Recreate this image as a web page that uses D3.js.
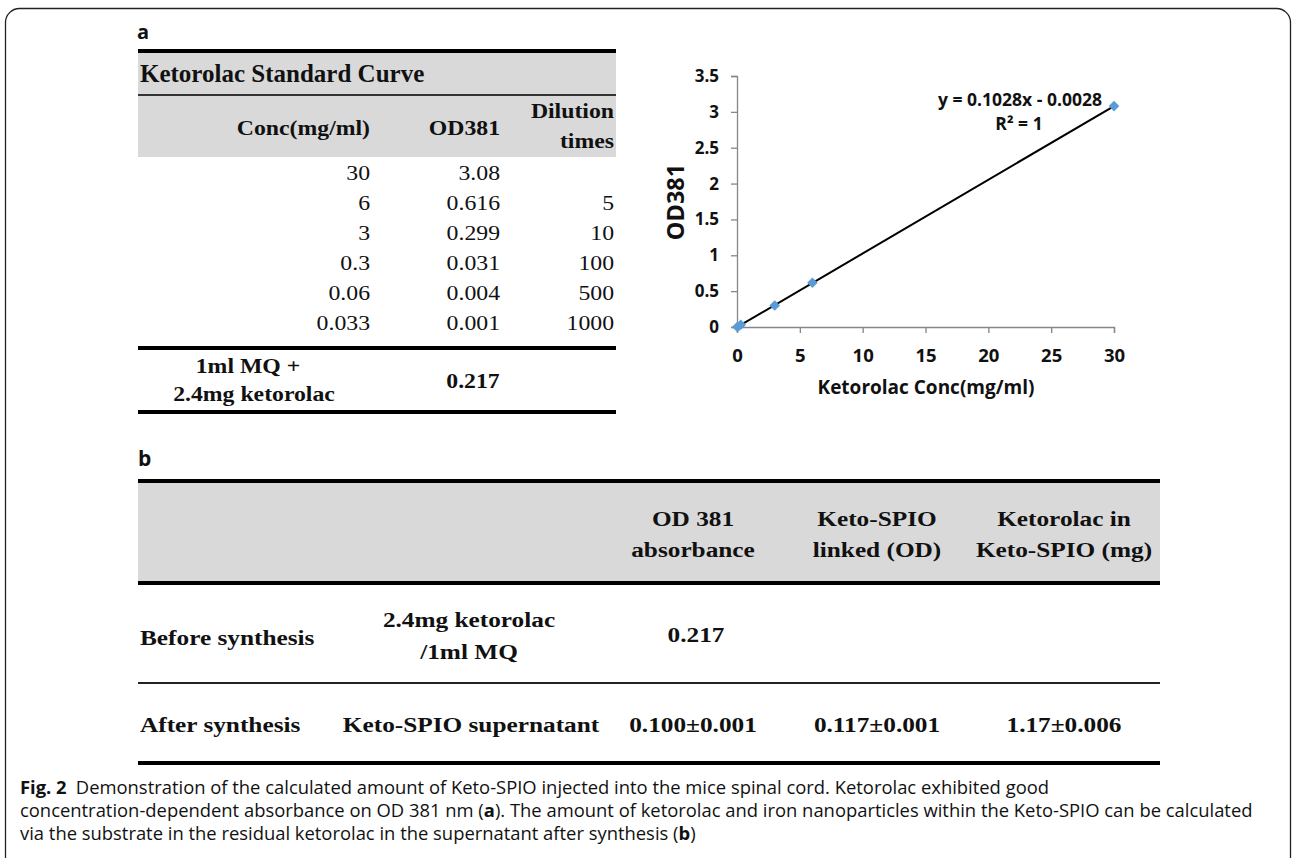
<!DOCTYPE html>
<html>
<head>
<meta charset="utf-8">
<script src="https://cdn.jsdelivr.net/npm/d3@7"></script>
<style>
  body { margin: 0; background: #fff; }
  svg { display: block; }
  .serif { font-family: "Liberation Serif", "Times New Roman", serif; fill: #111; white-space: pre; }
  .sans { font-family: "Open Sans", "Noto Sans", sans-serif; fill: #111; }
</style>
</head>
<body>
<div id="fig"></div>
<script>
// standard curve table (panel a)
const concLabels = ['30', '6', '3', '0.3', '0.06', '0.033'];
const concValues = [30, 6, 3, 0.3, 0.06, 0.033];
const odValues = [3.08, 0.616, 0.299, 0.031, 0.004, 0.001];
const odLabels = ['3.08', '0.616', '0.299', '0.031', '0.004', '0.001'];
const dilutionLabels = ['', '5', '10', '100', '500', '1000'];

// fit line from the chart
const slope = 0.1028;
const intercept = -0.0028;
const yTicks = [0, 0.5, 1, 1.5, 2, 2.5, 3, 3.5];
const xTicks = [0, 5, 10, 15, 20, 25, 30];

// synthesis table (panel b)
const bHeaders = [['OD 381', 'absorbance'], ['Keto-SPIO', 'linked (OD)'], ['Ketorolac in', 'Keto-SPIO (mg)']];
const bRowNames = ['Before synthesis', 'After synthesis'];
const bSamples = [['2.4mg ketorolac', '/1ml  MQ'], ['Keto-SPIO supernatant']];
const bValues = [['0.217', '', ''], ['0.100\u00b10.001', '0.117\u00b10.001', '1.17\u00b10.006']];

const W = 1292, H = 858;
const svg = d3.select('#fig').append('svg').attr('width', W).attr('height', H);

// outer frame, bottom runs off the page
svg.append('rect')
  .attr('x', 5.5).attr('y', 8.5).attr('width', 1285).attr('height', 900)
  .attr('rx', 14).attr('fill', 'none').attr('stroke', '#222').attr('stroke-width', 1.3);

function hline(g, x1, x2, y, w, c) {
  g.append('line').attr('x1', x1).attr('x2', x2).attr('y1', y).attr('y2', y)
    .attr('stroke', c || '#000').attr('stroke-width', w);
}
// the table text in the figure is a bit wider than plain Times, so stretch it sideways
function stext(g, x, y, txt, anchor, sx) {
  return g.append('text')
    .attr('transform', 'translate(' + x + ',' + y + ') scale(' + sx + ',1)')
    .attr('text-anchor', anchor).text(txt);
}

// ---------- panel a table ----------
const ta = svg.append('g');
const ax0 = 138, ax1 = 616;
const sxA = 1.08;
ta.append('text').attr('class', 'sans').attr('x', 137).attr('y', 39)
  .style('font-size', '20px').style('font-weight', 'bold').text('a');

ta.append('rect').attr('x', ax0).attr('y', 52).attr('width', ax1 - ax0).attr('height', 105).attr('fill', '#d9d9d9');
hline(ta, ax0, ax1, 51, 4);
hline(ta, ax0, ax1, 95, 2, '#333');
const title = ta.append('g').attr('class', 'serif').style('font-size', '25px').style('font-weight', 'bold');
stext(title, 140, 82, 'Ketorolac Standard Curve', 'start', 1.0);

const colRight = [370, 500, 614];
const hdr = ta.append('g').attr('class', 'serif').style('font-size', '22px').style('font-weight', 'bold');
stext(hdr, colRight[0], 135, 'Conc(mg/ml)', 'end', sxA);
stext(hdr, colRight[1], 135, 'OD381', 'end', sxA);
stext(hdr, colRight[2], 118, 'Dilution', 'end', sxA);
stext(hdr, colRight[2], 148, 'times', 'end', sxA);

const rowY = d3.scaleBand().domain(d3.range(concLabels.length)).range([157, 337]);
const body = ta.append('g').attr('class', 'serif').style('font-size', '22px');
[concLabels, odLabels, dilutionLabels].forEach((col, ci) => {
  col.forEach((t, i) => {
    stext(body, colRight[ci], rowY(i) + rowY.bandwidth() / 2 + 8, t, 'end', sxA);
  });
});

hline(ta, ax0, ax1, 348, 4);
const sample = ta.append('g').attr('class', 'serif').style('font-size', '22px').style('font-weight', 'bold');
stext(sample, 248, 373, '1ml MQ +', 'middle', sxA);
stext(sample, 254, 401, '2.4mg ketorolac', 'middle', sxA);
stext(sample, 473, 388, '0.217', 'middle', sxA);
hline(ta, ax0, ax1, 412, 4);

// ---------- panel a chart ----------
const x = d3.scaleLinear().domain([0, 30]).range([737, 1114]);
const y = d3.scaleLinear().domain([0, 3.5]).range([327, 76]);
const ch = svg.append('g');

const xAxis = ch.append('g').attr('transform', 'translate(0,' + y(0) + ')')
  .call(d3.axisBottom(x).tickValues(xTicks).tickSize(6).tickPadding(16).tickFormat(d => d));
const yAxis = ch.append('g').attr('transform', 'translate(' + x(0) + ',0)')
  .call(d3.axisLeft(y).tickValues(yTicks).tickSize(6).tickPadding(12).tickFormat(d => d));
[xAxis, yAxis].forEach(a => {
  a.select('.domain').attr('stroke', '#868686').attr('stroke-width', 1.3);
  a.selectAll('.tick line').attr('stroke', '#868686').attr('stroke-width', 1.3);
  a.selectAll('.tick text').attr('class', 'sans').attr('fill', '#111')
    .style('font-weight', 'bold');
});
xAxis.selectAll('.tick text').style('font-size', '18.5px');
yAxis.selectAll('.tick text').style('font-size', '17px');

ch.append('line')
  .attr('x1', x(0)).attr('y1', y(slope * 0 + intercept))
  .attr('x2', x(30)).attr('y2', y(slope * 30 + intercept))
  .attr('stroke', '#000').attr('stroke-width', 2);

ch.selectAll('path.pt').data(concValues).enter().append('path').attr('class', 'pt')
  .attr('d', d3.symbol(d3.symbolSquare, 56))
  .attr('transform', (d, i) => 'translate(' + x(d) + ',' + y(odValues[i]) + ') rotate(45)')
  .attr('fill', '#5b9bd5');

ch.append('text').attr('class', 'sans').attr('x', 926).attr('y', 394).attr('text-anchor', 'middle')
  .style('font-size', '19px').style('font-weight', 'bold').text('Ketorolac Conc(mg/ml)');
ch.append('text').attr('class', 'sans').attr('transform', 'translate(684,202) rotate(-90)')
  .attr('text-anchor', 'middle').style('font-size', '23.5px').style('font-weight', 'bold').text('OD381');

const eq = ch.append('g').attr('class', 'sans').attr('text-anchor', 'middle')
  .style('font-size', '17.5px').style('font-weight', 'bold');
eq.append('text').attr('x', 1020).attr('y', 106).text('y = 0.1028x - 0.0028');
eq.append('text').attr('x', 1019).attr('y', 130).text('R\u00b2 = 1');

// ---------- panel b table ----------
const tb = svg.append('g');
const bx0 = 138, bx1 = 1160;
const sxB = 1.15;
tb.append('text').attr('class', 'sans').attr('x', 138).attr('y', 466)
  .style('font-size', '21px').style('font-weight', 'bold').text('b');
tb.append('rect').attr('x', bx0).attr('y', 483).attr('width', bx1 - bx0).attr('height', 99).attr('fill', '#d9d9d9');
hline(tb, bx0, bx1, 481, 4);
hline(tb, bx0, bx1, 583, 4);
hline(tb, bx0, bx1, 683, 2, '#222');
hline(tb, bx0, bx1, 763, 4);

const valX = [693, 877, 1064];
const bh = tb.append('g').attr('class', 'serif').style('font-size', '22px').style('font-weight', 'bold');
bHeaders.forEach((h, i) => {
  stext(bh, valX[i], 526, h[0], 'middle', sxB);
  stext(bh, valX[i], 557, h[1], 'middle', sxB);
});

const rowBase = [645, 732];
const bb = tb.append('g').attr('class', 'serif').style('font-size', '22px').style('font-weight', 'bold');
bRowNames.forEach((n, r) => {
  stext(bb, 140, rowBase[r], n, 'start', sxB);
  const s = bSamples[r];
  s.forEach((t, k) => {
    stext(bb, s.length > 1 ? 469 : 471, s.length > 1 ? 627 + k * 32 : rowBase[r], t, 'middle', sxB);
  });
  bValues[r].forEach((v, c) => {
    if (v) stext(bb, valX[c] + (r === 0 ? 3 : 0), r === 0 ? 642 : rowBase[r], v, 'middle', sxB);
  });
});

// ---------- caption ----------
const cap = svg.append('g').attr('class', 'sans').style('font-size', '18.4px');
const l1 = cap.append('text').attr('x', 20).attr('y', 794);
l1.append('tspan').style('font-weight', 'bold').text('Fig. 2');
l1.append('tspan').text('\u2002Demonstration of the calculated amount of Keto-SPIO injected into the mice spinal cord. Ketorolac exhibited good');
const l2 = cap.append('text').attr('x', 20).attr('y', 817);
l2.append('tspan').text('concentration-dependent absorbance on OD 381 nm (');
l2.append('tspan').style('font-weight', 'bold').text('a');
l2.append('tspan').text('). The amount of ketorolac and iron nanoparticles within the Keto-SPIO can be calculated');
const l3 = cap.append('text').attr('x', 20).attr('y', 840);
l3.append('tspan').text('via the substrate in the residual ketorolac in the supernatant after synthesis (');
l3.append('tspan').style('font-weight', 'bold').text('b');
l3.append('tspan').text(')');
</script>
</body>
</html>
